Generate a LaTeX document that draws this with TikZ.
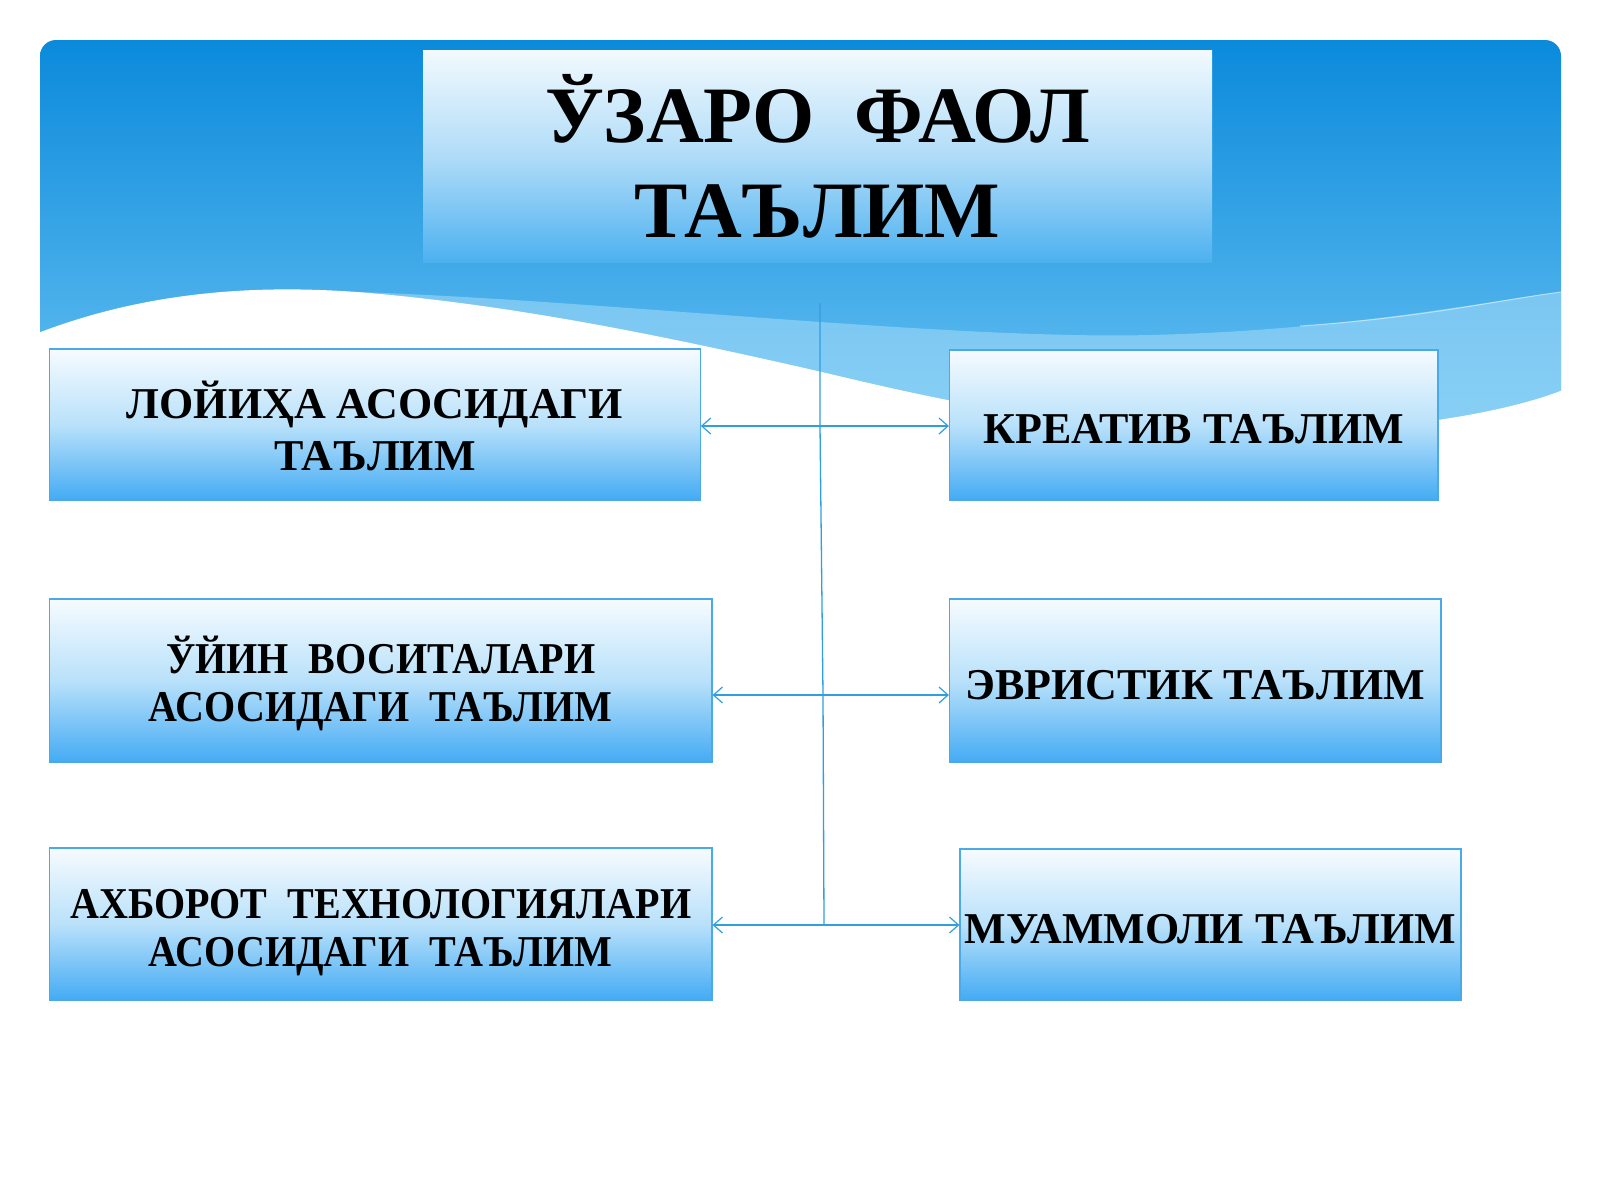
\documentclass[tikz,border=0pt]{standalone}
\usepackage{fontspec}
\usepackage{graphicx}
\setmainfont{Liberation Serif}
\usetikzlibrary{arrows.meta}
\definecolor{hdtop}{HTML}{0B8ADB}
\definecolor{hdbot}{HTML}{6CC4F3}
\definecolor{bandblue}{HTML}{A5DCF9}
\definecolor{boxtop}{HTML}{F6FBFF}
\definecolor{boxmid}{HTML}{B9E1FA}
\definecolor{boxbot}{HTML}{44ABF4}
\definecolor{boxline}{HTML}{4AA9E6}
\definecolor{connc}{HTML}{2F9FE0}
\definecolor{ttltop}{HTML}{F2FAFE}
\definecolor{ttlmid}{HTML}{B0DCF8}
\definecolor{ttlbot}{HTML}{4DB1F0}
\newcommand{\cond}[1]{\scalebox{0.91}[1]{#1}}
\begin{document}
\begin{tikzpicture}[x=1pt,y=-1pt,
  catbox/.style={rectangle, draw=boxline, line width=1.2pt,
    top color=boxtop, bottom color=boxbot, middle color=boxmid,
    inner sep=0pt, align=center,
    font=\fontsize{44}{52}\selectfont\bfseries},
  onel/.style={text height=37pt, text depth=0pt},
  twol/.style={text height=91pt, text depth=0pt},
  titlebox/.style={rectangle, draw=none,
    top color=ttltop, bottom color=ttlbot, middle color=ttlmid,
    inner sep=0pt, align=center,
    font=\fontsize{80}{95}\selectfont\bfseries},
  conn/.style={draw=connc, line width=1.3pt},
  tip/.style={-{Straight Barb[length=9pt,width=16pt,line width=1.2pt]}}
]
\useasboundingbox (0,0) rectangle (1600,1200);
\fill[white] (0,0) rectangle (1600,1200);
% header
\shade[top color=hdtop, bottom color=hdbot, rounded corners=16pt] (40,40) rectangle (1561,450);
% light band
\fill[bandblue, opacity=0.55] (357,292) .. controls (600,300) and (950,340) .. (1150,335)
  .. controls (1350,330) and (1480,302) .. (1561,292) -- (1561,450) -- (357,450) -- cycle;
\draw[white, opacity=0.5, line width=1pt] (1300,326) .. controls (1420,318) and (1500,300) .. (1561,292);
% white wave
\fill[white] (38,333) .. controls (150,290) and (260,285) .. (357,292)
  .. controls (520,305) and (680,340) .. (800,367)
  .. controls (900,390) and (1050,430) .. (1250,433)
  .. controls (1380,433) and (1500,415) .. (1563,390) -- (1563,470) -- (38,470) -- cycle;
% title
\node[titlebox, minimum width=789pt, minimum height=212pt] (title) at (817.5,156)
  {ЎЗАРО\ \ ФАОЛ\\ТАЪЛИМ};
% boxes
\node[catbox, twol, minimum width=650.5pt, minimum height=151pt] (b1) at (375,424.5)
  {ЛОЙИҲА АСОСИДАГИ\\ТАЪЛИМ};
\node[catbox, onel, minimum width=488.5pt, minimum height=150pt] (b2) at (1193.75,425)
  {КРЕАТИВ ТАЪЛИМ};
\node[catbox, twol, text height=82pt, font=\fontsize{44}{48}\selectfont\bfseries,
  minimum width=662.5pt, minimum height=163pt] (b3) at (380.75,680.5)
  {\cond{ЎЙИН\ \ ВОСИТАЛАРИ}\\\cond{АСОСИДАГИ\ \ ТАЪЛИМ}};
\node[catbox, onel, minimum width=491.5pt, minimum height=163pt] (b4) at (1195.25,680.5)
  {ЭВРИСТИК ТАЪЛИМ};
\node[catbox, twol, text height=85pt, font=\fontsize{44}{48}\selectfont\bfseries,
  minimum width=662.5pt, minimum height=152pt] (b5) at (380.75,924)
  {\cond{АХБОРОТ\ \ ТЕХНОЛОГИЯЛАРИ}\\\cond{АСОСИДАГИ\ \ ТАЪЛИМ}};
\node[catbox, onel, minimum width=501pt, minimum height=151pt] (b6) at (1210.5,924.5)
  {МУАММОЛИ ТАЪЛИМ};
% connectors
\coordinate (vtop) at (820,303);
\coordinate (h1) at (820,426);
\coordinate (h2) at (823,695);
\coordinate (h3) at (824,925);
\draw[conn] (vtop) -- (h1) -- (h2) -- (h3);
\draw[conn, tip] (h1) -- (h1 -| b1.east);
\draw[conn, tip] (h1) -- (h1 -| b2.west);
\draw[conn, tip] (h2) -- (h2 -| b3.east);
\draw[conn, tip] (h2) -- (h2 -| b4.west);
\draw[conn, tip] (h3) -- (h3 -| b5.east);
\draw[conn, tip] (h3) -- (h3 -| b6.west);
\end{tikzpicture}
\end{document}
